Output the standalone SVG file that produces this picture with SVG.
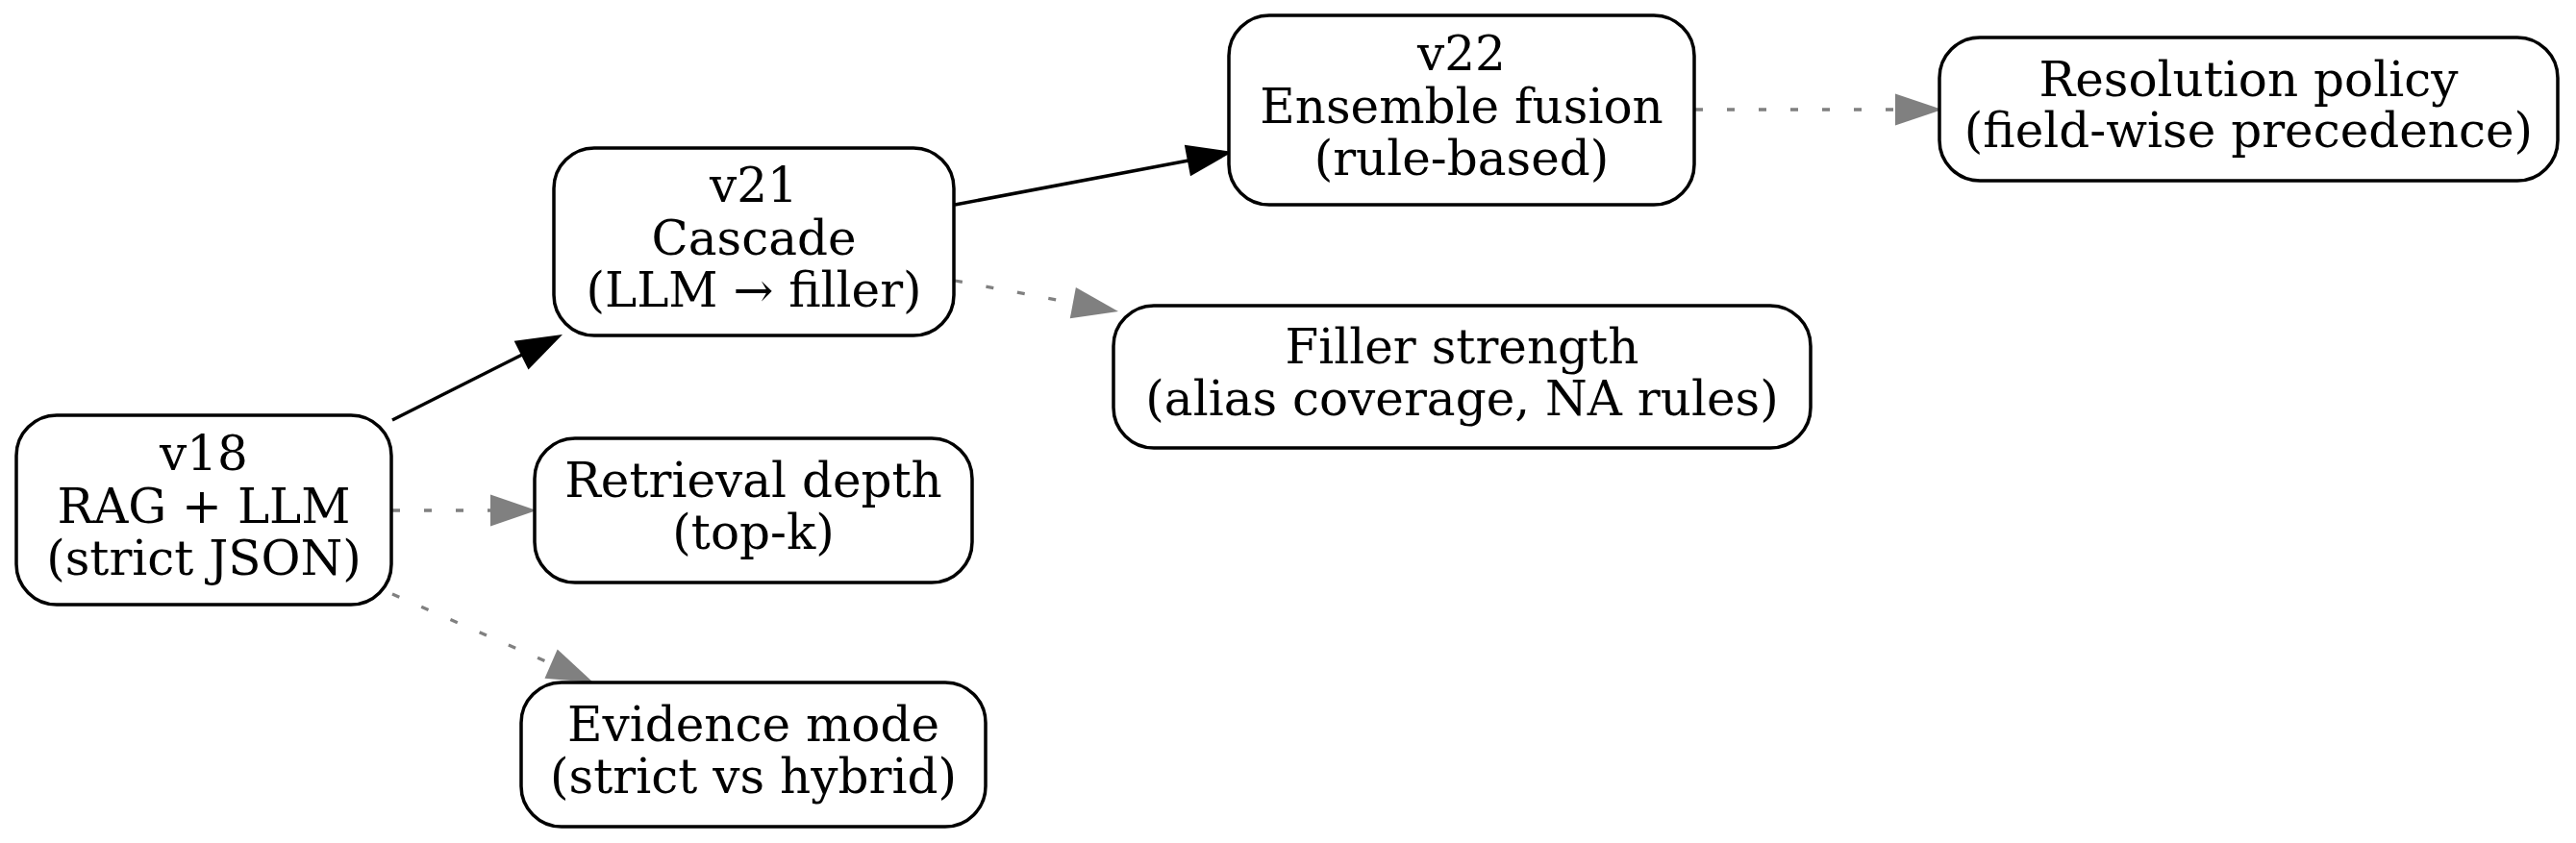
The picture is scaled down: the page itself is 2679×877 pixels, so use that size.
<svg xmlns="http://www.w3.org/2000/svg" width="2679" height="877" viewBox="0 0 2679 877">
<style>
.node rect{fill:#fff;stroke:#000;stroke-width:3.5}
.node text{font-family:"DejaVu Serif",serif;font-size:50px;text-anchor:middle;fill:#000}
.solid{stroke:#000;stroke-width:3.5;fill:none}
.dot{stroke:#808080;stroke-width:3.3;fill:none;stroke-dasharray:8 25}
.ah{fill:#000;stroke:none}
.ag{fill:#808080;stroke:none}
</style>
<rect width="2679" height="877" fill="#fff"/>
<g id="connectors">
<line class="solid" x1="408" y1="437" x2="543" y2="369"/>
<polygon class="ah" points="534.7,354.8 585,348 549.5,384.4"/>
<line class="solid" x1="993" y1="213" x2="1236" y2="167"/>
<polygon class="ah" points="1231.8,150.8 1282,158 1238,183.2"/>
<line class="dot" x1="1763" y1="114" x2="1971" y2="114"/>
<polygon class="ag" points="1971,97.5 2020,114 1971,130.5"/>
<line class="dot" x1="993" y1="292" x2="1115" y2="315"/>
<polygon class="ag" points="1118.9,298.9 1163,324 1112.8,331.3"/>
<line class="dot" x1="408" y1="531" x2="510" y2="531"/>
<polygon class="ag" points="510,514.5 558,531 510,547.5"/>
<line class="dot" x1="408" y1="618" x2="572" y2="690"/>
<polygon class="ag" points="579.7,675.6 617,710 566.5,705.8"/>
</g>
<g id="v18" class="node">
<rect x="17" y="432" width="390" height="197" rx="42"/>
<text x="212" y="489">v18</text>
<text x="212" y="543.5">RAG + LLM</text>
<text x="212" y="598">(strict JSON)</text>
</g>
<g id="v21" class="node">
<rect x="576" y="154" width="416" height="195" rx="42"/>
<text x="784" y="210">v21</text>
<text x="784" y="264.5">Cascade</text>
<text x="784" y="319">(LLM → filler)</text>
</g>
<g id="v22" class="node">
<rect x="1278" y="16" width="484" height="197" rx="42"/>
<text x="1520" y="73">v22</text>
<text x="1520" y="127.5">Ensemble fusion</text>
<text x="1520" y="182">(rule-based)</text>
</g>
<g id="resolution" class="node">
<rect x="2017" y="39" width="643" height="149" rx="42"/>
<text x="2338.5" y="99.5">Resolution policy</text>
<text x="2338.5" y="153">(field-wise precedence)</text>
</g>
<g id="filler" class="node">
<rect x="1158" y="318" width="725" height="148" rx="42"/>
<text x="1520.5" y="378">Filler strength</text>
<text x="1520.5" y="431.5">(alias coverage, NA rules)</text>
</g>
<g id="retrieval" class="node">
<rect x="556" y="456" width="455" height="150" rx="42"/>
<text x="783.5" y="517">Retrieval depth</text>
<text x="783.5" y="570.5">(top-k)</text>
</g>
<g id="evidence" class="node">
<rect x="542" y="710" width="483" height="150" rx="42"/>
<text x="783.5" y="771">Evidence mode</text>
<text x="783.5" y="824.5">(strict vs hybrid)</text>
</g>
</svg>
